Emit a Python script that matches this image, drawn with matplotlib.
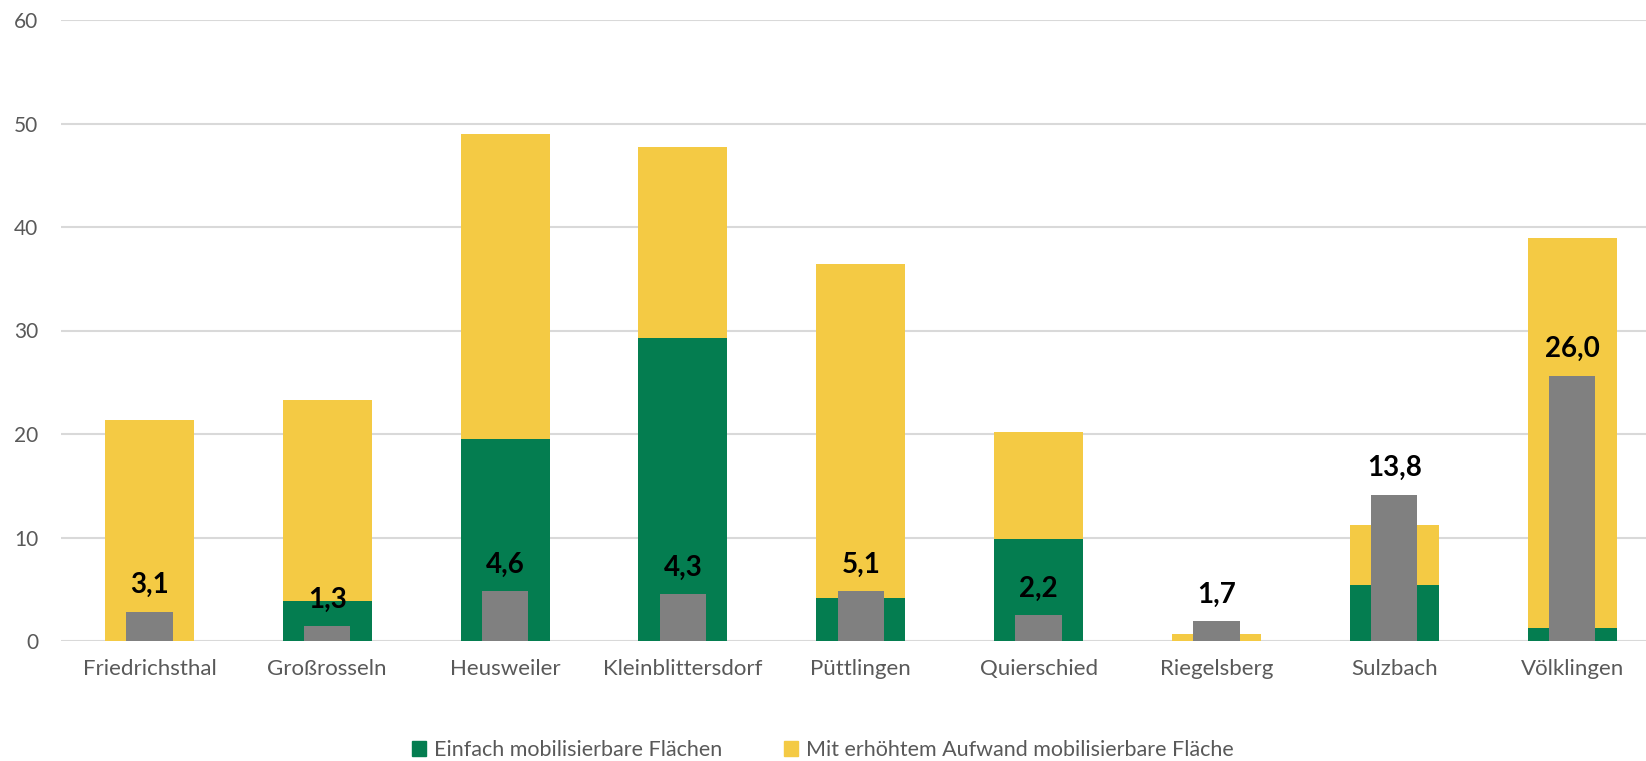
import matplotlib.pyplot as plt
from matplotlib.patches import Patch

# Daten
orte = ["Friedrichsthal", "Großrosseln", "Heusweiler", "Kleinblittersdorf", "Püttlingen",
        "Quierschied", "Riegelsberg", "Sulzbach", "Völklingen"]
einfach = [0.0, 3.9, 19.5, 29.3, 4.2, 9.9, 0.0, 5.4, 1.3]
erhoeht = [21.4, 19.4, 29.5, 18.4, 32.2, 10.3, 0.7, 5.85, 37.6]
grau = [2.85, 1.42, 4.85, 4.55, 4.85, 2.48, 1.9, 14.15, 25.65]
beschriftung = [3.1, 1.3, 4.6, 4.3, 5.1, 2.2, 1.7, 13.8, 26.0]

GRUEN = "#047D50"
GELB = "#F4CA44"
GRAU = "#808080"
TXT = "#595959"

plt.rcParams['font.family'] = ['Lato', 'DejaVu Sans']

W, H = 1646, 761
fig = plt.figure(figsize=(W / 100, H / 100), dpi=100)
ax = fig.add_axes([60.5 / W, (H - 641) / H, (1661 - 60.5) / W, (641 - 20) / H])

x = list(range(len(orte)))
ax.bar(x, einfach, width=0.5, color=GRUEN, zorder=2)
ax.bar(x, erhoeht, width=0.5, bottom=einfach, color=GELB, zorder=2)
ax.bar(x, grau, width=0.26, color=GRAU, zorder=3)

for xi, g, b in zip(x, grau, beschriftung):
    ax.annotate(f"{b:.1f}".replace('.', ','), (xi, g), xytext=(0, 19),
                textcoords='offset points', ha='center', va='center',
                fontsize=20, fontweight='bold', color='black', zorder=4)

ax.set_xlim(-0.5, len(orte) - 0.5)
ax.set_ylim(0, 60)
ax.set_yticks(range(0, 61, 10))
ax.set_xticks(x)
ax.set_xticklabels(orte)
ax.grid(axis='y', color='#D9D9D9', linewidth=1.5, zorder=0)
ax.set_axisbelow(True)
for s in ax.spines.values():
    s.set_visible(False)
ax.tick_params(axis='both', length=0, labelcolor=TXT)
ax.tick_params(axis='y', pad=16, labelsize=15)
ax.tick_params(axis='x', pad=13, labelsize=16)

handles = [Patch(color=GRUEN, label="Einfach mobilisierbare Flächen"),
           Patch(color=GELB, label="Mit erhöhtem Aufwand mobilisierbare Fläche")]
fig.legend(handles=handles, loc='center', bbox_to_anchor=(0.5, 1 - 750 / H), ncol=2,
           frameon=False, fontsize=15.5, handlelength=0.65, handleheight=0.65,
           handletextpad=0.35, columnspacing=2.9, labelcolor=TXT)

fig.savefig("out.png", dpi=100)
